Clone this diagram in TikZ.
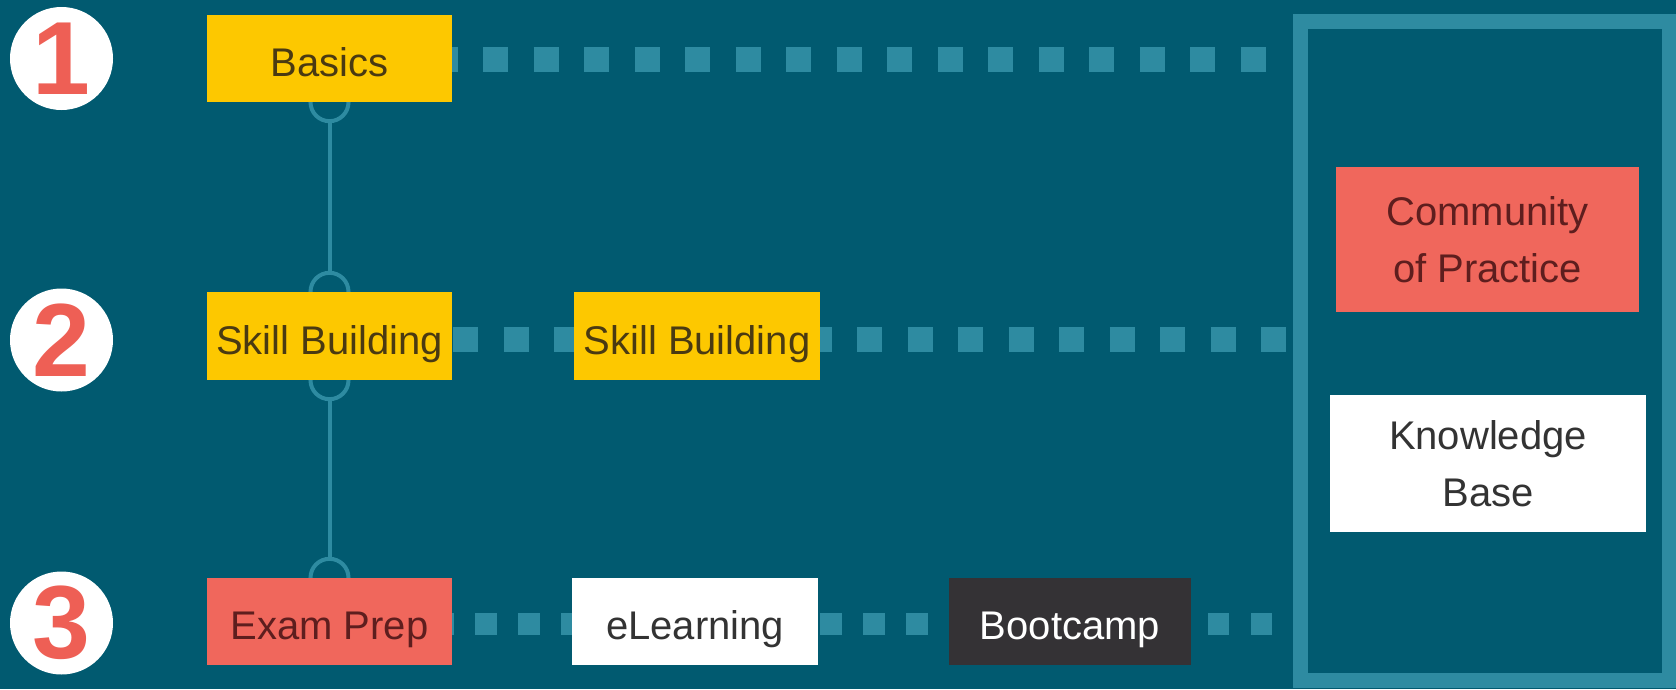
\documentclass[tikz,border=0pt]{standalone}
\usepackage{fontspec}
\setmainfont{Liberation Sans}
\usetikzlibrary{calc}

\definecolor{bgteal}{HTML}{015A70}
\definecolor{dotteal}{HTML}{2E8BA1}
\definecolor{boxyellow}{HTML}{FDC800}
\definecolor{boxcoral}{HTML}{F0675C}
\definecolor{boxdark}{HTML}{343235}
\definecolor{textbrown}{HTML}{4A3A12}
\definecolor{textmaroon}{HTML}{5E1E1E}
\definecolor{textgrey}{HTML}{333333}
\definecolor{numred}{HTML}{EE5F55}

\pgfdeclarelayer{bg}
\pgfdeclarelayer{links}
\pgfsetlayers{bg,links,main}

\begin{document}
\begin{tikzpicture}[x=1pt,y=-1pt,
  box/.style={rectangle, inner sep=0pt, align=center,
    font=\fontsize{40}{57}\selectfont},
  oneline/.style={text height=36pt, text depth=0pt},
  yellowbox/.style={box, fill=boxyellow, text=textbrown},
  coralbox/.style={box, fill=boxcoral, text=textmaroon},
  whitebox/.style={box, fill=white, text=textgrey},
  darkbox/.style={box, fill=boxdark, text=white},
  numdisc/.style={circle, fill=white, minimum size=103pt, inner sep=0pt,
    text=numred, font=\fontsize{104}{104}\selectfont\bfseries},
  link/.style={draw=dotteal, line width=4pt},
  bigdots/.style={draw=dotteal, line width=25pt, dash pattern=on 25pt off 25.5pt},
  smalldots/.style={draw=dotteal, line width=21.5pt, dash pattern=on 21.5pt off 21.6pt},
  framebox/.style={draw=dotteal, line width=15pt, inner sep=0pt}
]
% canvas
\begin{pgfonlayer}{bg}
  \fill[bgteal] (0,0) rectangle (1676,689);
\end{pgfonlayer}
\useasboundingbox (0,0) rectangle (1676,689);

% level markers
\node[numdisc] (n1) at (61.5,58.5) {1};
\node[numdisc] (n2) at (61.5,340) {2};
\node[numdisc] (n3) at (61.5,623) {3};

% level boxes
\node[yellowbox, oneline, minimum width=245pt, minimum height=87pt] (basics) at (329.5,58.5) {Basics};
\node[yellowbox, oneline, minimum width=245pt, minimum height=88pt] (sb1) at (329.5,336) {Skill Building};
\node[yellowbox, oneline, minimum width=246pt, minimum height=88pt] (sb2) at (697,336) {Skill Building};
\node[coralbox, oneline, minimum width=245pt, minimum height=87pt] (exam) at (329.5,621.5) {Exam Prep};
\node[whitebox, oneline, minimum width=246pt, minimum height=87pt] (elearn) at (695,621.5) {eLearning};
\node[darkbox, oneline, minimum width=242pt, minimum height=87pt] (boot) at (1070,621.5) {Bootcamp};

% ongoing support frame
\node[framebox, minimum width=368.5pt, minimum height=659.5pt] (frame) at (1484.75,350.75) {};
\node[coralbox, minimum width=303pt, minimum height=145pt] (cop) at (1487.5,239.5) {Community\\of Practice};
\node[whitebox, minimum width=316pt, minimum height=137pt] (kb) at (1488,463.5) {Knowledge\\Base};

% free ends of the dotted rows
\coordinate (r1e) at (1266,59.5);
\coordinate (r2e) at (1287,339);
\coordinate (r3e) at (1272,624);

\begin{pgfonlayer}{links}
  % dotted rows
  \draw[bigdots, dash phase=19.5pt] (basics.east |- r1e) -- (r1e);
  \draw[bigdots, dash phase=49.5pt] (sb1.east |- r2e) -- (sb2.west |- r2e);
  \draw[bigdots, dash phase=13.5pt] (sb2.east |- r2e) -- (r2e);
  \draw[smalldots, dash phase=20.1pt] (exam.east |- r3e) -- (elearn.west |- r3e);
  \draw[smalldots, dash phase=41.3pt] (elearn.east |- r3e) -- (boot.west |- r3e);
  \draw[smalldots, dash phase=26.4pt] (boot.east |- r3e) -- (r3e);
  % vertical links with cup joints
  \draw[link] (basics.south) circle[radius=19pt];
  \draw[link] (sb1.north) circle[radius=19pt];
  \draw[link] (sb1.south) circle[radius=19pt];
  \draw[link] (exam.north) circle[radius=19pt];
  \draw[link, shorten <=19pt, shorten >=19pt] (basics.south) -- (sb1.north);
  \draw[link, shorten <=19pt, shorten >=19pt] (sb1.south) -- (exam.north);
\end{pgfonlayer}
\end{tikzpicture}
\end{document}
